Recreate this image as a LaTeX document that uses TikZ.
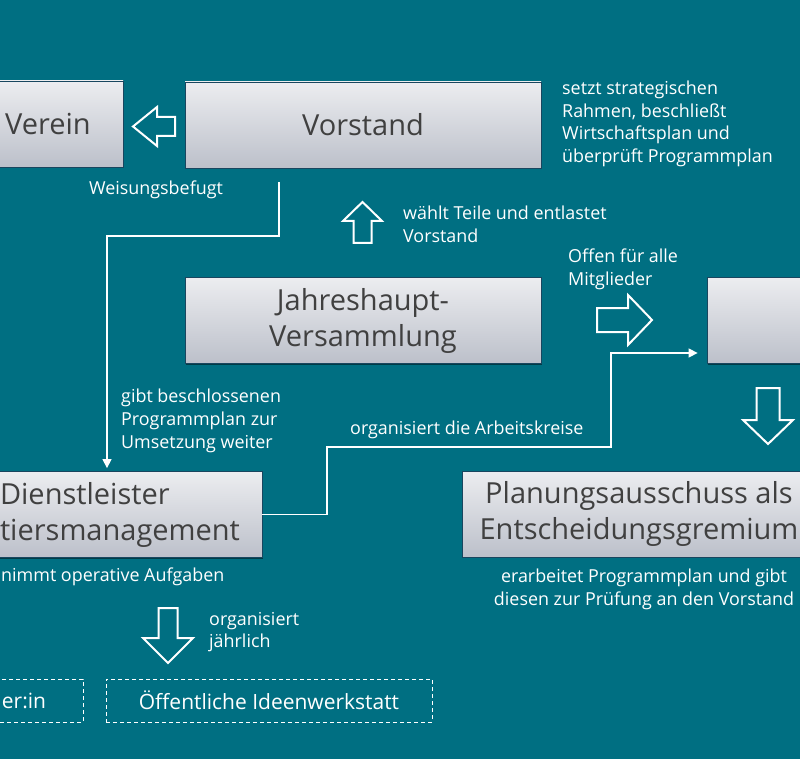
\documentclass[tikz,border=0pt]{standalone}
\usepackage{fontspec}
\setmainfont{Open Sans}
\usetikzlibrary{arrows.meta,shadows}
\definecolor{teal}{RGB}{0,111,130}
\definecolor{boxtop}{RGB}{236,237,240}
\definecolor{boxbottom}{RGB}{188,192,202}
\definecolor{boxline}{RGB}{25,70,95}
\definecolor{boxtext}{RGB}{64,64,64}
\tikzset{
	pics/blockarrow/.style n args = {4}{code = {
		\draw[white, line width = 2pt, miter limit = 20] ({-#1/2}, {-#3/2}) -- ({#1/2-#4}, {-#3/2}) -- ({#1/2-#4}, {-#2/2}) -- ({#1/2}, 0) -- ({#1/2-#4}, {#2/2}) -- ({#1/2-#4}, {#3/2}) -- ({-#1/2}, {#3/2}) -- cycle;
	}}
}
\begin{document}
\begin{tikzpicture}[
		x = 1pt, y = -1pt,
		every node/.style = {
			font = \fontsize{17.9}{22.7}\selectfont
		},
		box/.style = {
			draw = boxline,
			line width = 0.8pt,
			top color = boxtop,
			bottom color = boxbottom,
			text = boxtext,
			minimum height = 86pt,
			align = center,
			font = \fontsize{29}{36}\selectfont,
			drop shadow = {shadow xshift = 1.2pt, shadow yshift = -1.2pt, opacity = 0.45, fill = black}
		},
		ideabox/.style = {
			draw = white,
			dashed,
			dash pattern = on 4pt off 3pt,
			line width = 0.9pt,
			text = white,
			minimum height = 43pt,
			font = \fontsize{21}{26}\selectfont
		},
		note/.style = {
			text = white,
			inner sep = 0pt,
			align = left
		},
		link/.style = {
			draw = white,
			line width = 1.3pt,
			-{Triangle[length = 9pt, width = 9pt]}
		}]
	\useasboundingbox (0, 0) rectangle (800, 759);
	\fill[teal] (0, 0) rectangle (800, 759);
	% boxes
	\node[box, minimum width = 150pt] (verein) at (48, 124) {Verein};
	\node[box, minimum width = 356pt] (vorstand) at (363, 125) {Vorstand};
	\node[box, minimum width = 356pt] (jhv) at (363, 320.5) {Jahreshaupt-\\Versammlung};
	\node[box, minimum width = 200pt] (ak) at (807, 320.5) {};
	\node[box, minimum width = 354pt] (pa) at (639, 514) {Planungsausschuss als\\Entscheidungsgremium};
	\node[box, minimum width = 284pt, align = left] (dl) at (120, 514.5) {Dienstleister\\tiersmanagement};
	\node[ideabox, minimum width = 118pt] (lead) at (24, 700.5) {er:in};
	\node[ideabox, minimum width = 326pt] (werkstatt) at (269, 700.5) {Öffentliche Ideenwerkstatt};
	% block arrows
	\pic[rotate = 180] at (154, 126.5) {blockarrow = {42}{39}{19}{24}};
	\pic[rotate = 90] at (362.5, 222.5) {blockarrow = {41}{39}{18}{19}};
	\pic at (624.5, 320) {blockarrow = {55}{50}{24}{24}};
	\pic[rotate = -90] at (768, 416) {blockarrow = {56}{50}{23}{24}};
	\pic[rotate = -90] at (168, 635.5) {blockarrow = {55}{50}{19}{25}};
	% lines
	\coordinate (vs) at (279, 182);
	\draw[link, shorten > = 3pt] (vs) -- (vs |- 0, 236) -| ([xshift = -13pt]dl.north);
	\draw[link, shorten > = 9pt] (dl.east) -| (327, 447) -| (611, 353) -- ([yshift = -32.5pt]ak.west);
	% notes
	\node[note, align = center] (weisung) at (156, 190) {Weisungsbefugt};
	\node[note, anchor = west] (rahmen) at (562, 124) {setzt strategischen\\Rahmen, beschließt\\Wirtschaftsplan und\\überprüft Programmplan};
	\node[note, anchor = west] (wahl) at (403, 224.5) {wählt Teile und entlastet\\Vorstand};
	\node[note, anchor = west] (offen) at (568, 269) {Offen für alle\\Mitglieder};
	\node[note, anchor = west] (weiter) at (121, 421) {gibt beschlossenen\\Programmplan zur\\Umsetzung weiter};
	\node[note, anchor = west] (orgak) at (350, 430) {organisiert die Arbeitskreise};
	\node[note, anchor = west] (operativ) at (1, 577) {nimmt operative Aufgaben};
	\node[note, align = center] (pruefung) at (644, 589) {erarbeitet Programmplan und gibt\\diesen zur Prüfung an den Vorstand};
	\node[note, anchor = west] (jaehrlich) at (209, 632) {organisiert\\jährlich};
\end{tikzpicture}
\end{document}
